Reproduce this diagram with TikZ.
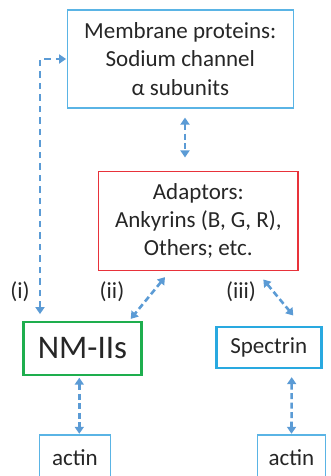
\documentclass[tikz,border=0pt]{standalone}
\usepackage{fontspec}
\setmainfont{Carlito}
\usetikzlibrary{arrows.meta}
\definecolor{boxblue}{HTML}{5AB4E5}
\definecolor{specblue}{HTML}{29A9E0}
\definecolor{boxred}{RGB}{232,50,58}
\definecolor{nmgreen}{HTML}{1EAE4E}
\definecolor{arrblue}{HTML}{5B9BD5}
\definecolor{txtgray}{HTML}{262626}
\begin{document}
\begin{tikzpicture}[x=1pt,y=-1pt]
		\tikzstyle{every node}=[font=\fontsize{23}{28.3}\selectfont,text=txtgray,align=center]
		\tikzstyle{pbox}=[rectangle,inner sep=0pt]
		\tikzstyle{link}=[draw=arrblue,line width=2.6pt,dash pattern=on 6pt off 3.5pt,{Triangle[length=7pt,width=9pt]}-{Triangle[length=7pt,width=9pt]}]
		\useasboundingbox (0,0) rectangle (330,476);
		\node[pbox,draw=boxblue,line width=1.2pt,minimum width=226pt,minimum height=98pt] (mem) at (180.3,59) {Membrane proteins:\\Sodium channel\\α subunits};
		\node[pbox,line width=1.3pt,minimum width=198pt,minimum height=98pt] (adp) at (198.3,220.8) {Adaptors:\\Ankyrins (B, G, R),\\Others; etc.};
		\draw[boxred,line width=1.3pt] (adp.north west) rectangle (adp.south east);
		\node[pbox,draw=nmgreen,line width=2.4pt,minimum width=118pt,minimum height=53pt,font=\fontsize{33}{38}\selectfont] (nm) at (82.5,348.3) {NM-IIs};
		\node[pbox,draw=specblue,line width=2.4pt,minimum width=105pt,minimum height=41.5pt] (spec) at (268.8,347.5) {Spectrin};
		\node[pbox,draw=boxblue,line width=1.2pt,minimum width=71.4pt,minimum height=45pt] (actL) at (75,457.5) {actin};
		\node[pbox,draw=boxblue,line width=1.2pt,minimum width=68.4pt,minimum height=45pt] (actR) at (291.5,457.5) {actin};
		\node (li) at (20,292) {(i)};
		\node (lii) at (112,292) {(ii)};
		\node (liii) at (241,292) {(iii)};
		\draw[link,line width=1.9pt,dash pattern=on 6.5pt off 5pt] ([xshift=17.7pt,yshift=6.5pt]nm.north west) |- ([xshift=-0.6pt]mem.west);
		\draw[link] ([xshift=4.7pt,yshift=-9pt]mem.south) -- ([xshift=-13.3pt,yshift=13.7pt]adp.north);
		\draw[link] ([xshift=-33.3pt,yshift=-6.7pt]adp.south) -- ([xshift=48.2pt,yshift=1.7pt]nm.north);
		\draw[link] ([xshift=65pt,yshift=-9pt]adp.south) -- ([xshift=24.5pt,yshift=10pt]spec.north);
		\draw[link] ([xshift=-3.2pt,yshift=-1.7pt]nm.south) -- ([xshift=4.3pt,yshift=0.6pt]actL.north);
		\draw[link] ([xshift=22.9pt,yshift=-7.7pt]spec.south) -- ([yshift=0.6pt]actR.north);
	    \end{tikzpicture}
\end{document}
